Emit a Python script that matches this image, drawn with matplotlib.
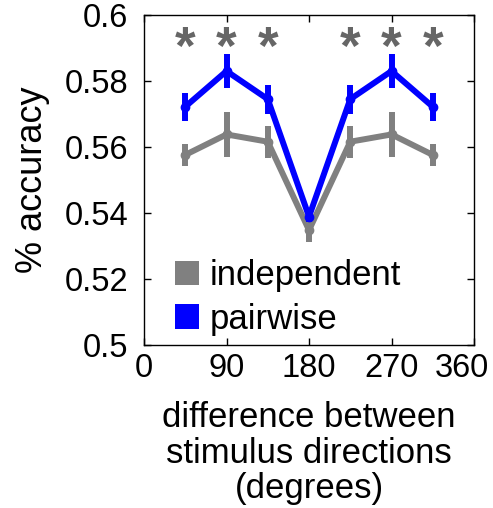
import matplotlib
matplotlib.use("Agg")
import matplotlib.pyplot as plt
from matplotlib.patches import Patch
from matplotlib.transforms import ScaledTranslation

plt.rcParams['font.family'] = ['Liberation Sans', 'DejaVu Sans']

# direction differences (degrees)
directions = [45, 90, 135, 180, 225, 270, 315]

# decoding accuracy, independent model
independent = [0.5576, 0.5638, 0.5616, 0.5348, 0.5616, 0.5638, 0.5576]
independent_err = [0.0033, 0.0068, 0.0049, 0.0035, 0.0049, 0.0068, 0.0033]

# decoding accuracy, pairwise model
pairwise = [0.5722, 0.5830, 0.5745, 0.5389, 0.5745, 0.5830, 0.5722]
pairwise_err = [0.0043, 0.0052, 0.0044, 0.0015, 0.0044, 0.0052, 0.0043]

# significant differences
significant = [45, 90, 135, 225, 270, 315]
star_level = 0.5893

x_ticks = [0, 90, 180, 270, 360]
y_ticks = [0.5, 0.52, 0.54, 0.56, 0.58, 0.6]
y_tick_labels = ['0.5', '0.52', '0.54', '0.56', '0.58', '0.6']

gray = '#808080'
blue = '#0000FF'

fig = plt.figure(figsize=(4.93, 5.08), dpi=100)
ax = fig.add_axes([0.2921, 0.3209, 0.6694, 0.6496])

ax.errorbar(directions, independent, yerr=independent_err, color=gray,
            lw=4.3, elinewidth=4.3, capsize=0, marker='o', ms=6, zorder=2)
ax.errorbar(directions, pairwise, yerr=pairwise_err, color=blue,
            lw=4.3, elinewidth=4.3, capsize=0, marker='o', ms=6, zorder=3)

for d in significant:
    ax.text(d, star_level, '*', color='#666666', fontsize=38,
            ha='center', va='center', fontweight='bold')

ax.set_xlim(0, 360)
ax.set_ylim(0.5, 0.6)
ax.set_xticks(x_ticks)
ax.set_yticks(y_ticks)
ax.set_yticklabels(y_tick_labels)
ax.tick_params(direction='in', length=5, width=1, top=True, right=True,
               labelsize=23.5)
ax.tick_params(axis='x', pad=6)
ax.tick_params(axis='y', pad=11.5)
for s in ax.spines.values():
    s.set_linewidth(1)

# keep the last x tick label inside the figure
last = ax.get_xticklabels()[-1]
last.set_transform(last.get_transform() +
                   ScaledTranslation(-12 / 100, 0, fig.dpi_scale_trans))

ax.set_ylabel('% accuracy', fontsize=26, labelpad=10)
ax.set_xlabel('difference between\nstimulus directions\n(degrees)',
              fontsize=25, labelpad=12, linespacing=1.1)

handles = [Patch(facecolor=gray, edgecolor='none', label='independent'),
           Patch(facecolor=blue, edgecolor='none', label='pairwise')]
ax.legend(handles=handles, loc='lower left', bbox_to_anchor=(0.03, -0.035),
          frameon=False, fontsize=25, handlelength=0.7, handleheight=0.7,
          handletextpad=0.3, labelspacing=0.3, borderaxespad=0.2)

fig.savefig('out.png', dpi=100)
